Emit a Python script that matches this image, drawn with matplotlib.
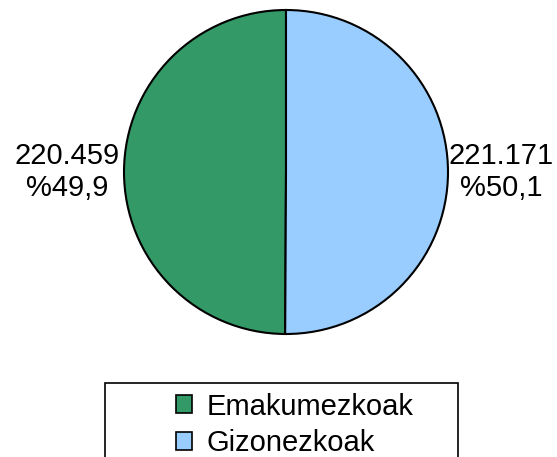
import matplotlib.pyplot as plt
from matplotlib.patches import Rectangle

plt.rcParams['font.family'] = ['Liberation Sans', 'DejaVu Sans']

# data
labels = ["Emakumezkoak", "Gizonezkoak"]
counts = [220459, 221171]
count_text = ["220.459", "221.171"]
pct_text = ["%49,9", "%50,1"]
colors = ["#339966", "#99ccff"]

W, H = 557, 457
fig = plt.figure(figsize=(W / 100, H / 100), dpi=100)

# pie axes: center (286,172), radius 162 px
cx, cy, r = 286, 172, 162
ax = fig.add_axes([(cx - r) / W, (H - cy - r) / H, 2 * r / W, 2 * r / H])
wedges, _ = ax.pie(counts, colors=colors, startangle=90, counterclock=True,
                   wedgeprops=dict(edgecolor="black", linewidth=1.5))
ax.set_xlim(-1, 1)
ax.set_ylim(-1, 1)
ax.set_aspect("equal")

# value labels
fs = 21
fig.text(67 / W, 1 - cy / H, count_text[0] + "\n" + pct_text[0], ha="center", va="center",
         fontsize=fs, linespacing=1.2, multialignment="center")
fig.text(501 / W, 1 - cy / H, count_text[1] + "\n" + pct_text[1], ha="center", va="center",
         fontsize=fs, linespacing=1.2, multialignment="center")

# legend frame (runs off the bottom)
fig.patches.append(Rectangle((105 / W, -0.05), (458 - 105) / W, (H + 0.05 * H - 383) / H,
                             transform=fig.transFigure, facecolor="white",
                             edgecolor="black", linewidth=1.2, zorder=0))
leg = fig.legend(wedges, labels, loc="upper left", bbox_to_anchor=(161 / W, 1 - 378 / H),
                 frameon=False, fontsize=fs, handlelength=0.55, handleheight=0.55,
                 handletextpad=0.5, labelspacing=0.3, borderpad=0)
for h in leg.legend_handles:
    h.set_linewidth(1.2)

fig.savefig("out.png", dpi=100)
